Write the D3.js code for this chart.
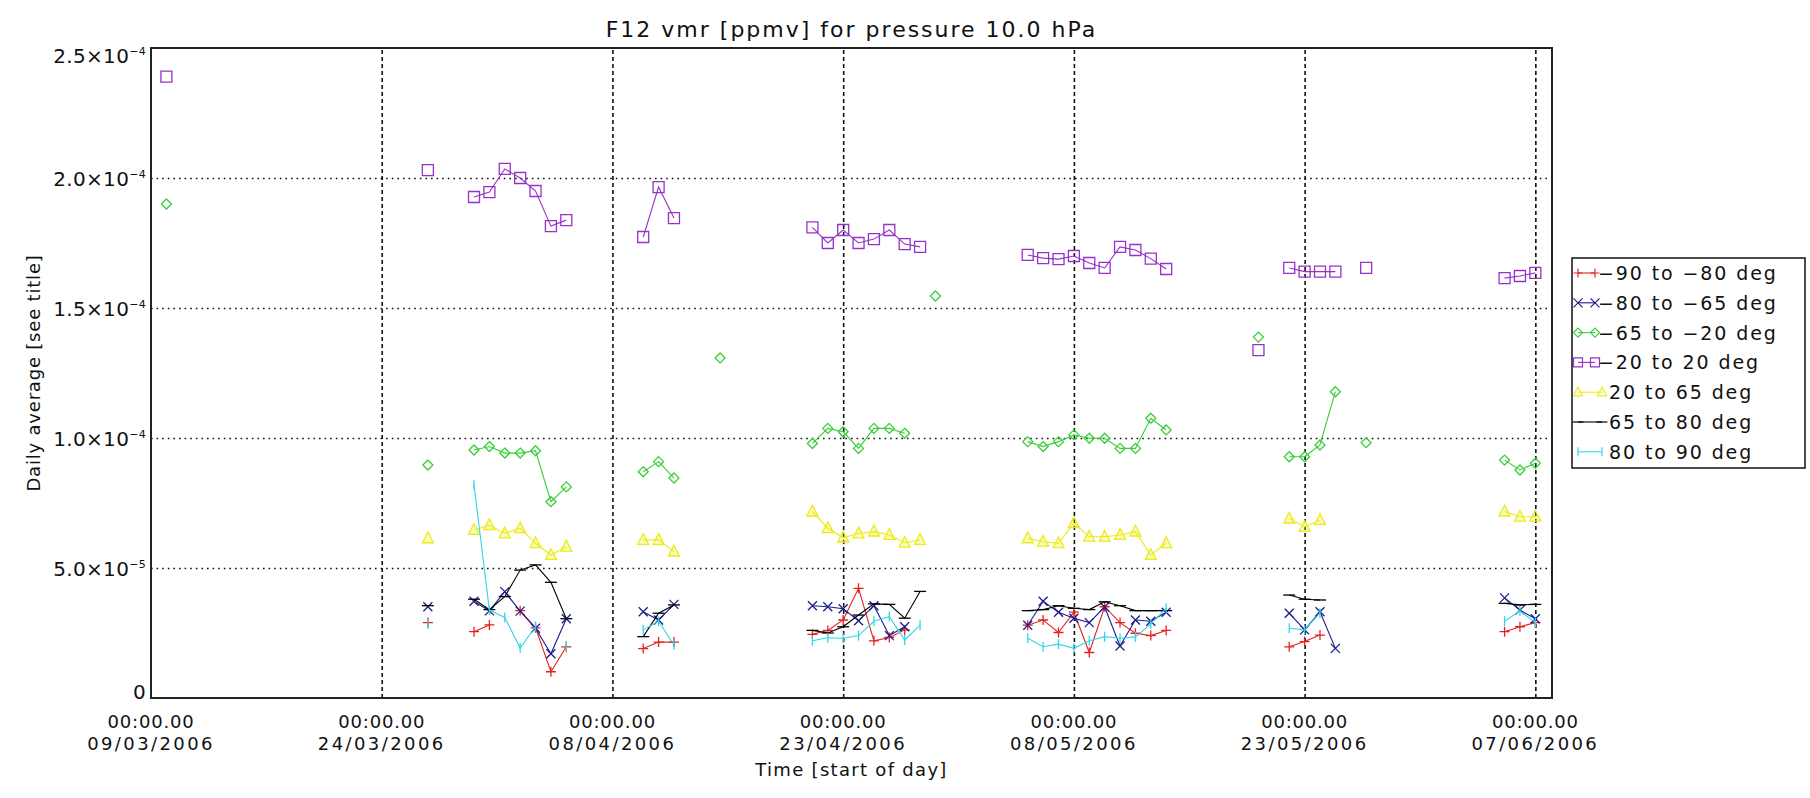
<!DOCTYPE html>
<html>
<head>
<meta charset="utf-8">
<script src="https://cdn.jsdelivr.net/npm/d3@7"></script>
<style>
  body { margin: 0; background: #fff; }
  svg { display: block; font-family: "DejaVu Sans", sans-serif; }
  text { fill: #111; }
</style>
</head>
<body>
<svg id="chart"></svg>
<script>
// values (ppmv), dates are 2006 "MM-DD"
const titleText = "F12 vmr [ppmv] for pressure 10.0 hPa";
const xTitle = "Time [start of day]";
const yTitle = "Daily average [see title]";
const xTickDates = ["03-09", "03-24", "04-08", "04-23", "05-08", "05-23", "06-07"];
const yTickValues = [0, 5e-5, 1e-4, 1.5e-4, 2e-4, 2.5e-4];
const seriesNames = ["−90 to −80 deg", "−80 to −65 deg", "−65 to −20 deg", "−20 to 20 deg",
                     "20 to 65 deg", "65 to 80 deg", "80 to 90 deg"];

const s90s80 = [["03-27",2.90e-5],["03-30",2.55e-5],["03-31",2.81e-5],["04-02",3.36e-5],["04-03",2.70e-5],
  ["04-04",1.01e-5],["04-05",1.97e-5],["04-10",1.90e-5],["04-11",2.15e-5],["04-12",2.15e-5],
  ["04-21",2.45e-5],["04-22",2.60e-5],["04-23",3.00e-5],["04-24",4.22e-5],["04-25",2.20e-5],["04-26",2.33e-5],["04-27",2.62e-5],
  ["05-05",2.80e-5],["05-06",3.00e-5],["05-07",2.52e-5],["05-08",3.30e-5],["05-09",1.75e-5],["05-10",3.51e-5],
  ["05-11",2.90e-5],["05-12",2.49e-5],["05-13",2.40e-5],["05-14",2.60e-5],
  ["05-22",1.97e-5],["05-23",2.17e-5],["05-24",2.42e-5],["06-05",2.55e-5],["06-06",2.74e-5],["06-07",2.90e-5]];

const s80s65 = [["03-27",3.51e-5],["03-30",3.72e-5],["03-31",3.35e-5],["04-01",4.09e-5],["04-02",3.34e-5],["04-03",2.68e-5],
  ["04-04",1.70e-5],["04-05",3.05e-5],["04-10",3.32e-5],["04-11",3.00e-5],["04-12",3.60e-5],
  ["04-21",3.55e-5],["04-22",3.51e-5],["04-23",3.43e-5],["04-24",2.97e-5],["04-25",3.55e-5],["04-26",2.40e-5],["04-27",2.74e-5],
  ["05-05",2.80e-5],["05-06",3.72e-5],["05-07",3.30e-5],["05-08",3.07e-5],["05-09",2.90e-5],["05-10",3.50e-5],
  ["05-11",2.00e-5],["05-12",3.00e-5],["05-13",2.95e-5],["05-14",3.30e-5],
  ["05-22",3.26e-5],["05-23",2.62e-5],["05-24",3.32e-5],["05-25",1.91e-5],["06-05",3.85e-5],["06-06",3.38e-5],["06-07",3.05e-5]];

const s65s20 = [["03-10",1.90e-4],["03-27",0.896e-4],["03-30",0.954e-4],["03-31",0.967e-4],["04-01",0.942e-4],["04-02",0.942e-4],
  ["04-03",0.951e-4],["04-04",0.755e-4],["04-05",0.812e-4],["04-10",0.870e-4],["04-11",0.909e-4],["04-12",0.846e-4],
  ["04-15",1.308e-4],["04-21",0.979e-4],["04-22",1.037e-4],["04-23",1.024e-4],["04-24",0.960e-4],["04-25",1.037e-4],
  ["04-26",1.037e-4],["04-27",1.018e-4],["04-29",1.546e-4],
  ["05-05",0.986e-4],["05-06",0.967e-4],["05-07",0.986e-4],["05-08",1.012e-4],["05-09",0.999e-4],["05-10",0.999e-4],
  ["05-11",0.960e-4],["05-12",0.960e-4],["05-13",1.076e-4],["05-14",1.031e-4],["05-20",1.388e-4],
  ["05-22",0.928e-4],["05-23",0.928e-4],["05-24",0.973e-4],["05-25",1.178e-4],["05-27",0.982e-4],
  ["06-05",0.915e-4],["06-06",0.877e-4],["06-07",0.903e-4]];

const s20n20 = [["03-10",2.39e-4],["03-27",2.03e-4],["03-30",1.927e-4],["03-31",1.946e-4],["04-01",2.035e-4],["04-02",2.00e-4],
  ["04-03",1.95e-4],["04-04",1.815e-4],["04-05",1.838e-4],["04-10",1.773e-4],["04-11",1.965e-4],["04-12",1.846e-4],
  ["04-21",1.81e-4],["04-22",1.75e-4],["04-23",1.80e-4],["04-24",1.75e-4],["04-25",1.765e-4],["04-26",1.80e-4],
  ["04-27",1.746e-4],["04-28",1.735e-4],
  ["05-05",1.704e-4],["05-06",1.692e-4],["05-07",1.688e-4],["05-08",1.70e-4],["05-09",1.673e-4],["05-10",1.654e-4],
  ["05-11",1.735e-4],["05-12",1.723e-4],["05-13",1.69e-4],["05-14",1.65e-4],["05-20",1.338e-4],
  ["05-22",1.654e-4],["05-23",1.64e-4],["05-24",1.64e-4],["05-25",1.64e-4],["05-27",1.654e-4],
  ["06-05",1.615e-4],["06-06",1.623e-4],["06-07",1.635e-4]];

const n20n65 = [["03-27",6.14e-5],["03-30",6.46e-5],["03-31",6.65e-5],["04-01",6.33e-5],["04-02",6.53e-5],["04-03",5.95e-5],
  ["04-04",5.50e-5],["04-05",5.82e-5],["04-10",6.08e-5],["04-11",6.08e-5],["04-12",5.63e-5],
  ["04-21",7.17e-5],["04-22",6.53e-5],["04-23",6.17e-5],["04-24",6.33e-5],["04-25",6.40e-5],["04-26",6.27e-5],
  ["04-27",5.97e-5],["04-28",6.08e-5],
  ["05-05",6.14e-5],["05-06",6.01e-5],["05-07",5.95e-5],["05-08",6.72e-5],["05-09",6.20e-5],["05-10",6.20e-5],
  ["05-11",6.27e-5],["05-12",6.40e-5],["05-13",5.50e-5],["05-14",5.95e-5],
  ["05-22",6.90e-5],["05-23",6.58e-5],["05-24",6.85e-5],["06-05",7.17e-5],["06-06",6.97e-5],["06-07",6.97e-5]];

const n65n80 = [["03-27",3.55e-5],["03-30",3.80e-5],["03-31",3.40e-5],["04-01",3.90e-5],["04-02",4.92e-5],["04-03",5.12e-5],
  ["04-04",4.45e-5],["04-05",3.05e-5],["04-10",2.36e-5],["04-11",3.26e-5],["04-12",3.58e-5],
  ["04-21",2.60e-5],["04-22",2.50e-5],["04-23",2.74e-5],["04-24",3.19e-5],["04-25",3.62e-5],["04-26",3.60e-5],
  ["04-27",3.07e-5],["04-28",4.10e-5],
  ["05-05",3.36e-5],["05-06",3.40e-5],["05-07",3.55e-5],["05-08",3.45e-5],["05-09",3.40e-5],["05-10",3.70e-5],
  ["05-11",3.55e-5],["05-12",3.36e-5],["05-13",3.36e-5],["05-14",3.36e-5],
  ["05-22",3.96e-5],["05-23",3.80e-5],["05-24",3.77e-5],["06-05",3.64e-5],["06-06",3.58e-5],["06-07",3.60e-5]];

const n80n90 = [["03-27",2.85e-5],["03-30",8.20e-5],["03-31",3.38e-5],["04-01",3.10e-5],["04-02",1.92e-5],["04-03",2.75e-5],
  ["04-05",2.00e-5],["04-10",2.62e-5],["04-11",2.95e-5],["04-12",2.05e-5],
  ["04-21",2.20e-5],["04-22",2.32e-5],["04-23",2.30e-5],["04-24",2.40e-5],["04-25",2.95e-5],["04-26",3.13e-5],
  ["04-27",2.23e-5],["04-28",2.80e-5],
  ["05-05",2.30e-5],["05-06",1.97e-5],["05-07",2.07e-5],["05-08",1.91e-5],["05-09",2.20e-5],["05-10",2.36e-5],
  ["05-11",2.30e-5],["05-12",2.35e-5],["05-13",2.85e-5],["05-14",3.45e-5],
  ["05-22",2.68e-5],["05-23",2.62e-5],["05-24",3.26e-5],["06-05",2.95e-5],["06-06",3.35e-5],["06-07",2.90e-5]];

const seriesData = [s90s80, s80s65, s65s20, s20n20, n20n65, n65n80, n80n90];
const seriesColors = ["#e4231f", "#1d1d8c", "#38cf38", "#9632c8", "#ecec14", "#000000", "#33d6e6"];
const seriesSymbols = ["plus", "cross", "diamond", "square", "triangle", "hbar", "vbar"];

const width = 1810, height = 798;
const plotL = 151, plotR = 1552, plotT = 48, plotB = 698;
const parse = d3.utcParse("%Y-%m-%d");
const toDate = s => parse("2006-" + s);

const svg = d3.select("#chart").attr("width", width).attr("height", height);

const x = d3.scaleUtc()
  .domain([toDate("03-09"), new Date(Date.UTC(2006, 5, 8, 2))])
  .range([plotL, plotR]);
const y = d3.scaleLinear().domain([0, 2.5e-4]).range([plotB, plotT]);

// grid lines (IDL style: dashed verticals, dotted horizontals)
svg.append("g")
  .attr("transform", `translate(0,${plotB})`)
  .call(d3.axisBottom(x).tickValues(xTickDates.slice(1).map(toDate)).tickSize(-(plotB - plotT)).tickFormat(""))
  .call(g => g.select(".domain").remove())
  .call(g => g.selectAll(".tick line")
    .attr("stroke", "#111").attr("stroke-width", 1.6).attr("stroke-dasharray", "4,3"));

svg.append("g")
  .attr("transform", `translate(${plotL},0)`)
  .call(d3.axisLeft(y).tickValues(yTickValues.slice(1, -1)).tickSize(-(plotR - plotL)).tickFormat(""))
  .call(g => g.select(".domain").remove())
  .call(g => g.selectAll(".tick line")
    .attr("stroke", "#111").attr("stroke-width", 1.4).attr("stroke-dasharray", "1.6,4"));

// frame
svg.append("rect")
  .attr("x", plotL).attr("y", plotT)
  .attr("width", plotR - plotL).attr("height", plotB - plotT)
  .attr("fill", "none").attr("stroke", "#222").attr("stroke-width", 2);

// y tick labels: m.m×10^e
const yl = svg.append("g").attr("font-size", 20);
yTickValues.forEach(v => {
  const yy = Math.max(plotT + 15, Math.min(plotB + 1, y(v) + 7.5));
  const t = yl.append("text").attr("x", 146).attr("y", yy).attr("text-anchor", "end").attr("letter-spacing", 0.3);
  if (v === 0) { t.text("0"); return; }
  const e = Math.floor(Math.log10(v) + 1e-9);
  t.append("tspan").text((v / Math.pow(10, e)).toFixed(1) + "×10");
  t.append("tspan").attr("font-size", 11).attr("dy", -8).text("−" + Math.abs(e));
});

// x tick labels: time line over date line
const xl = svg.append("g").attr("font-size", 18).attr("text-anchor", "middle");
xTickDates.forEach(s => {
  const d = toDate(s);
  xl.append("text").attr("x", x(d)).attr("y", 728).attr("letter-spacing", 0.8)
    .text(d3.utcFormat("%H:%M.00")(d));
  xl.append("text").attr("x", x(d)).attr("y", 750).attr("letter-spacing", 2.4)
    .text(d3.utcFormat("%d/%m/%Y")(d));
});

// titles
svg.append("text").attr("x", (plotL + plotR) / 2).attr("y", 37).attr("text-anchor", "middle")
  .attr("font-size", 22).attr("letter-spacing", 2).text(titleText);
svg.append("text").attr("x", (plotL + plotR) / 2).attr("y", 776).attr("text-anchor", "middle")
  .attr("font-size", 18).attr("letter-spacing", 1.3).text(xTitle);
svg.append("text").attr("transform", `translate(40,${(plotT + plotB) / 2}) rotate(-90)`).attr("text-anchor", "middle")
  .attr("font-size", 18).attr("letter-spacing", 0.8).text(yTitle);

// symbols
function symbolPath(type, s) {
  switch (type) {
    case "plus": return `M${-s},0H${s}M0,${-s}V${s}`;
    case "cross": return `M${-s},${-s}L${s},${s}M${-s},${s}L${s},${-s}`;
    case "diamond": return `M0,${-s}L${s},0L0,${s}L${-s},0Z`;
    case "square": return `M${-s},${-s}H${s}V${s}H${-s}Z`;
    case "triangle": return `M0,${-s * 1.15}L${s},${s * 0.8}L${-s},${s * 0.8}Z`;
    case "hbar": return `M${-s * 1.2},0H${s * 1.2}`;
    case "vbar": return `M0,${-s}V${s}`;
  }
}
const symSize = {plus: 5, cross: 4.5, diamond: 5, square: 5.5, triangle: 5.5, hbar: 5, vbar: 5};

// split into runs of consecutive days (missing days break the line)
function runs(points) {
  const out = [];
  points.forEach((p, i) => {
    if (i === 0 || (p.date - points[i - 1].date) > 1.5 * 864e5) out.push([]);
    out[out.length - 1].push(p);
  });
  return out;
}

const line = d3.line().x(d => x(d.date)).y(d => y(d.value));
const plot = svg.append("g");

seriesData.forEach((raw, i) => {
  const pts = raw.map(([s, v]) => ({date: toDate(s), value: v}));
  const g = plot.append("g");
  const col = seriesColors[i], sym = seriesSymbols[i];
  g.selectAll("path.ln")
    .data(runs(pts).filter(r => r.length > 1))
    .join("path")
    .attr("class", "ln")
    .attr("d", line)
    .attr("fill", "none").attr("stroke", col).attr("stroke-width", 1.1);
  g.selectAll("path.mk")
    .data(pts)
    .join("path")
    .attr("class", "mk")
    .attr("transform", d => `translate(${x(d.date)},${y(d.value)})`)
    .attr("d", symbolPath(sym, symSize[sym]))
    .attr("fill", sym === "triangle" ? "rgba(236,236,20,0.25)" : "none")
    .attr("stroke", col).attr("stroke-width", 1.3);
});

// legend
const lg = svg.append("g");
lg.append("rect").attr("x", 1572).attr("y", 258).attr("width", 233).attr("height", 210)
  .attr("fill", "#fff").attr("stroke", "#111").attr("stroke-width", 1.5);
seriesNames.forEach((name, i) => {
  const ry = 273 + i * 29.8;
  const col = seriesColors[i], sym = seriesSymbols[i];
  const x1 = 1578, x2 = name.startsWith("−") ? 1595 : 1602;
  lg.append("line").attr("x1", x1).attr("x2", x2).attr("y1", ry).attr("y2", ry)
    .attr("stroke", col).attr("stroke-width", 1.1);
  [x1, x2].forEach(xx => lg.append("path")
    .attr("transform", `translate(${xx},${ry})`)
    .attr("d", symbolPath(sym, 4.5))
    .attr("fill", "none").attr("stroke", col).attr("stroke-width", 1.2));
  lg.append("text").attr("x", name.startsWith("−") ? 1598 : 1609).attr("y", ry + 7)
    .attr("font-size", 19).attr("letter-spacing", 1.9).text(name);
});
</script>
</body>
</html>
